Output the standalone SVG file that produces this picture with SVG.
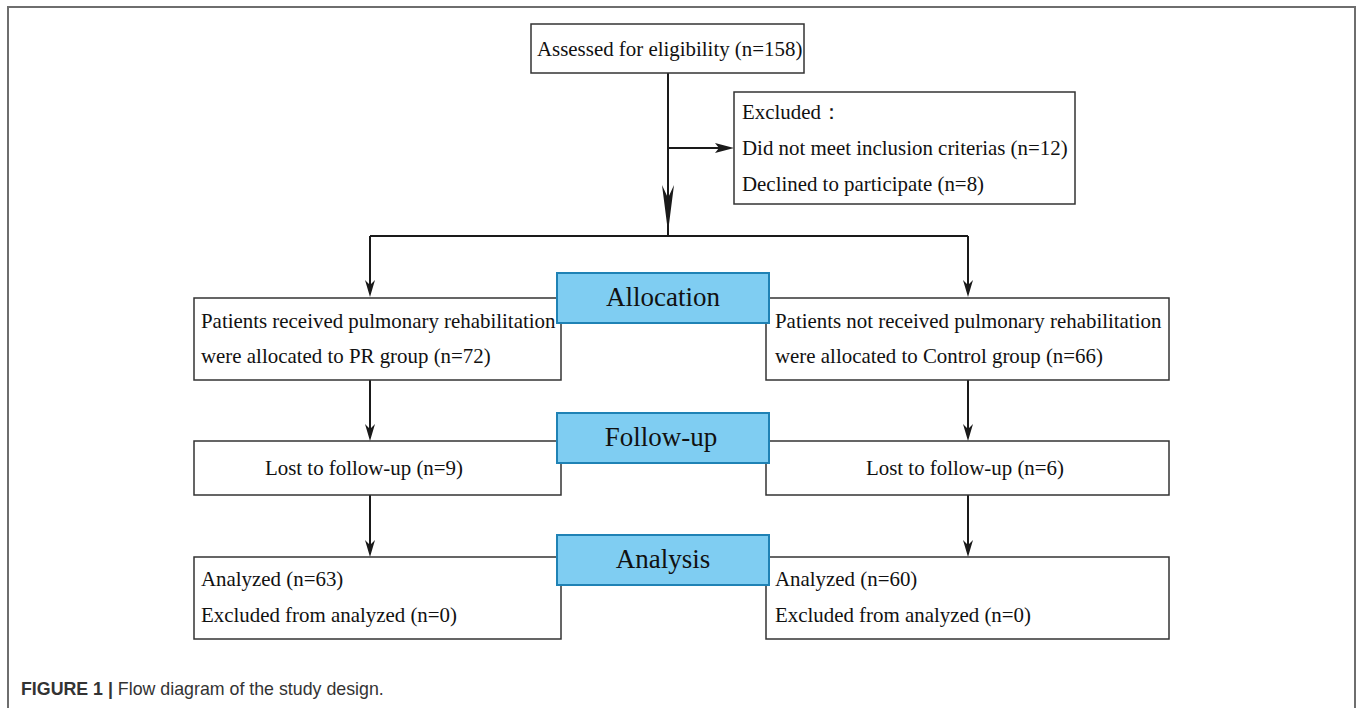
<svg xmlns="http://www.w3.org/2000/svg" width="1357" height="708" viewBox="0 0 1357 708">
<style>
.box{fill:#fff;stroke:#333;stroke-width:1.5}
.phase{fill:#7fcdf2;stroke:#1f82b5;stroke-width:2}
.t{font-family:"Liberation Serif","Times New Roman",serif;font-size:20.9px;fill:#111}
.pt{font-family:"Liberation Serif","Times New Roman",serif;font-size:27px;fill:#111;text-anchor:middle}
.ln{stroke:#1a1a1a;stroke-width:2;fill:none}
.ah{fill:#1a1a1a}
</style>
<rect x="0" y="0" width="1357" height="708" fill="#fff"/>
<path d="M8 708V7H1355V708" fill="none" stroke="#6e6e6e" stroke-width="2"/>
<g id="connectors">
<path class="ln" d="M668 73V236"/>
<path class="ln" d="M668 148H722"/>
<path class="ah" d="M734 148L715 143L719 148L715 153Z"/>
<path class="ah" d="M668 232L662 185L668 198L674 185Z"/>
<path class="ln" d="M370 236H968"/>
<path class="ln" d="M370 236V290"/>
<path class="ah" d="M370 297L365 280L370 285L375 280Z"/>
<path class="ln" d="M968 236V290"/>
<path class="ah" d="M968 297L963 280L968 285L973 280Z"/>
<path class="ln" d="M370 380V434"/>
<path class="ah" d="M370 441L365 424L370 429L375 424Z"/>
<path class="ln" d="M968 380V434"/>
<path class="ah" d="M968 441L963 424L968 429L973 424Z"/>
<path class="ln" d="M370 495V550"/>
<path class="ah" d="M370 557L365 540L370 545L375 540Z"/>
<path class="ln" d="M968 495V550"/>
<path class="ah" d="M968 557L963 540L968 545L973 540Z"/>
</g>
<g id="assessed">
<rect class="box" x="531" y="24" width="273" height="49"/>
<text class="t" x="537" y="56">Assessed for eligibility (n=158)</text>
</g>
<g id="excluded">
<rect class="box" x="734" y="92" width="341" height="112"/>
<text class="t" x="742" y="119">Excluded：</text>
<text class="t" x="742" y="155">Did not meet inclusion criterias (n=12)</text>
<text class="t" x="742" y="191">Declined to participate (n=8)</text>
</g>
<g id="pr-group">
<rect class="box" x="194" y="298" width="367" height="82"/>
<text class="t" x="201" y="328">Patients received pulmonary rehabilitation</text>
<text class="t" x="201" y="363">were allocated to PR group (n=72)</text>
</g>
<g id="control-group">
<rect class="box" x="766" y="298" width="403" height="82"/>
<text class="t" x="775" y="328">Patients not received pulmonary rehabilitation</text>
<text class="t" x="775" y="363">were allocated to Control group (n=66)</text>
</g>
<g id="allocation">
<rect class="phase" x="557" y="273" width="212" height="50"/>
<text class="pt" x="663" y="306">Allocation</text>
</g>
<g id="lost-pr">
<rect class="box" x="194" y="441" width="367" height="54"/>
<text class="t" x="364" y="475" text-anchor="middle">Lost to follow-up (n=9)</text>
</g>
<g id="lost-control">
<rect class="box" x="766" y="441" width="403" height="54"/>
<text class="t" x="965" y="475" text-anchor="middle">Lost to follow-up (n=6)</text>
</g>
<g id="follow-up">
<rect class="phase" x="557" y="413" width="212" height="50"/>
<text class="pt" x="661" y="446">Follow-up</text>
</g>
<g id="analyzed-pr">
<rect class="box" x="194" y="557" width="367" height="82"/>
<text class="t" x="201" y="586">Analyzed (n=63)</text>
<text class="t" x="201" y="622">Excluded from analyzed (n=0)</text>
</g>
<g id="analyzed-control">
<rect class="box" x="766" y="557" width="403" height="82"/>
<text class="t" x="775" y="586">Analyzed (n=60)</text>
<text class="t" x="775" y="622">Excluded from analyzed (n=0)</text>
</g>
<g id="analysis">
<rect class="phase" x="557" y="535" width="212" height="50"/>
<text class="pt" x="663" y="568">Analysis</text>
</g>
<text x="21" y="695" font-family="'Liberation Sans',Arial,sans-serif" font-size="17.8" fill="#333"><tspan font-weight="bold">FIGURE 1 |</tspan> Flow diagram of the study design.</text>
</svg>
